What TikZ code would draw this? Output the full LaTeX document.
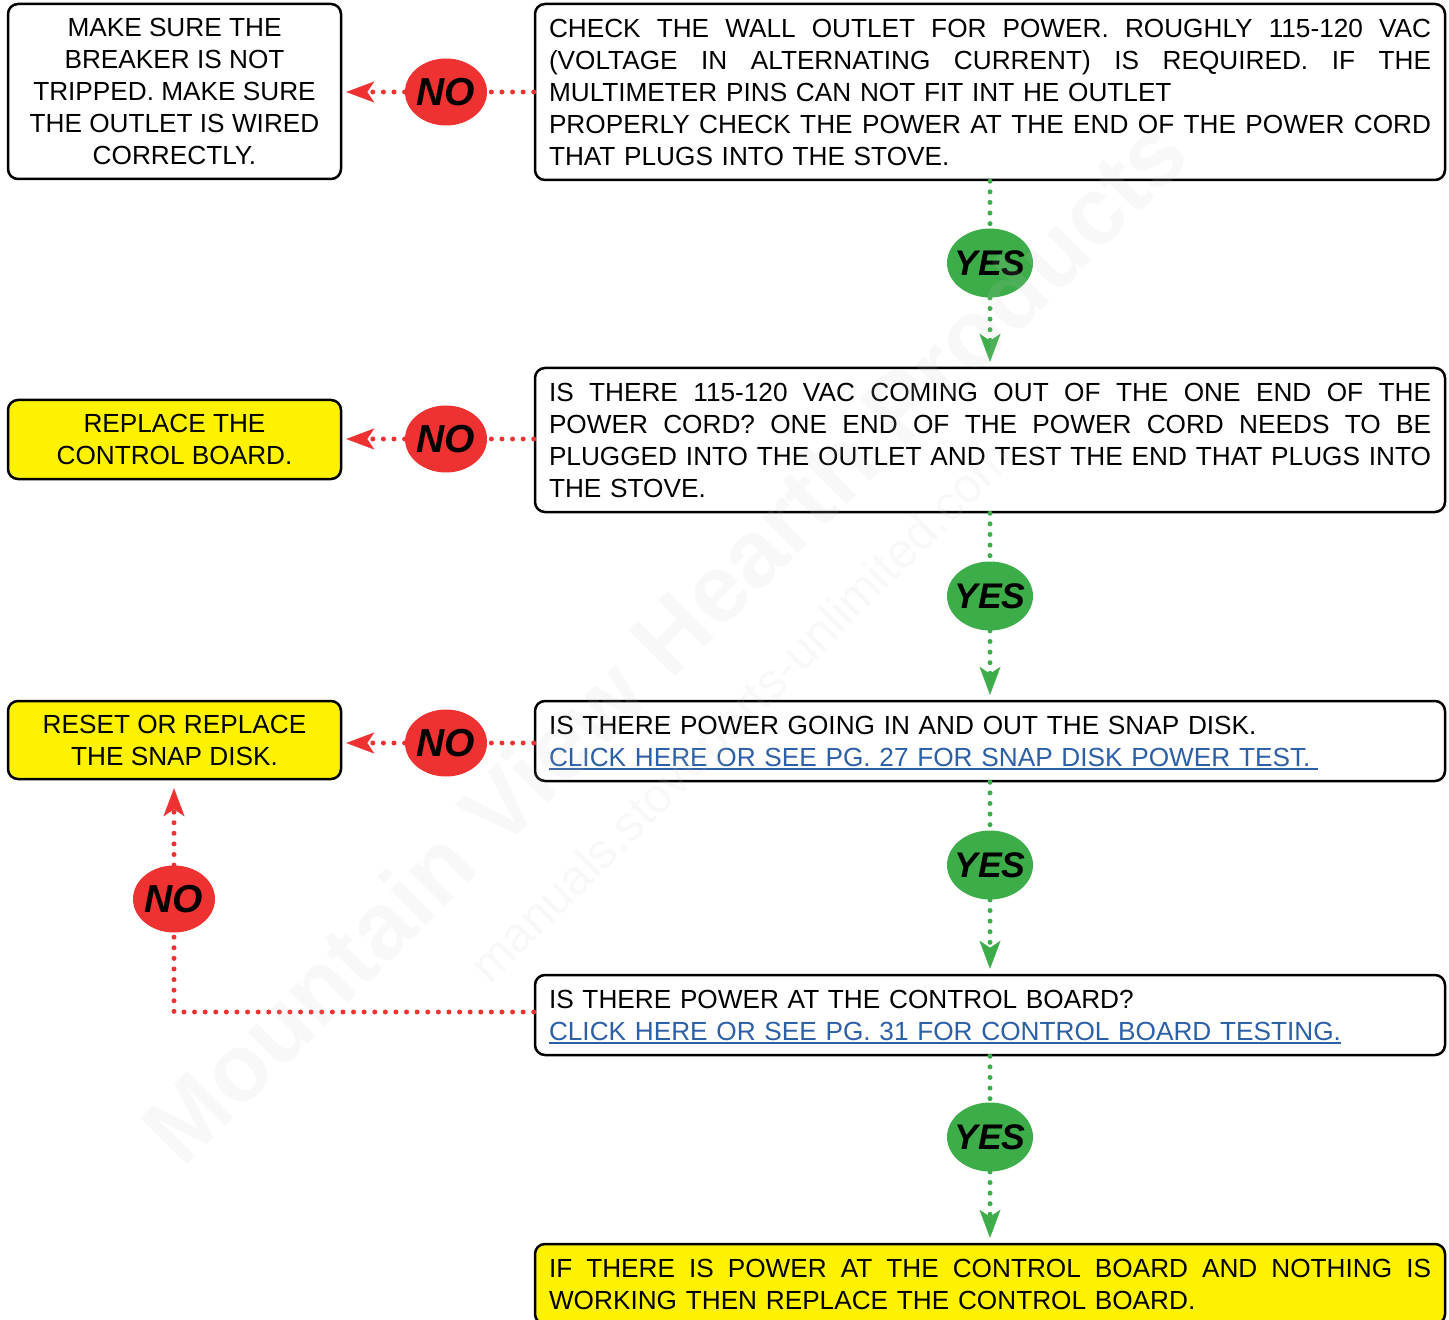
\documentclass[tikz,border=0pt]{standalone}
\usepackage{fontspec}
\setmainfont{Liberation Sans}
\usetikzlibrary{shapes.geometric,arrows.meta}
\definecolor{nored}{HTML}{EE3232}
\definecolor{yesgreen}{HTML}{3DAD4A}
\definecolor{boxyellow}{HTML}{FFF200}
\definecolor{linkblue}{HTML}{2D5FA6}
\newcommand\ms{\rule[-3.31pt]{0pt}{16pt}}
\newcommand\jl[1]{\leavevmode\hbox to 441pt{\frenchspacing\spaceskip=0.278em plus 1fil minus 0.05em\relax\ms #1}}
\newsavebox\lnkbox
\newcommand\lnk[2][0pt]{\sbox\lnkbox{\color{linkblue}#2}\leavevmode\ms{\color{linkblue}\rlap{\rule[-1.8pt]{\dimexpr\wd\lnkbox+#1\relax}{0.9pt}}}\usebox\lnkbox}
\newcommand\bub[1]{\makebox[0pt]{#1}}
\begin{document}
\begin{tikzpicture}[x=0.5pt,y=-0.5pt,
  box/.style={draw=black, line width=1.25pt, rounded corners=5pt, inner sep=0pt, fill=white,
    font=\fontsize{13.1pt}{16pt}\selectfont},
  wide/.style={box, minimum width=455pt, text width=441pt, align=left},
  narrow/.style={box, minimum width=166.5pt, align=center},
  hl/.style={fill=boxyellow},
  nobub/.style={ellipse, fill=nored, inner sep=0pt, minimum width=41pt, minimum height=33.5pt,
    font=\fontsize{19.5pt}{20pt}\selectfont\bfseries\itshape},
  yesbub/.style={ellipse, fill=yesgreen, inner sep=0pt, minimum width=43pt, minimum height=34.5pt,
    font=\fontsize{17.8pt}{20pt}\selectfont\bfseries\itshape},
  redline/.style={draw=nored, line width=2.5pt, line cap=round, dash pattern=on 0pt off 5.3pt},
  greenline/.style={draw=yesgreen, line width=2.5pt, line cap=round, dash pattern=on 0pt off 5.3pt},
  arrowed/.style={-{Stealth[length=14pt,width=10.5pt,inset=3.5pt,line width=0.1pt]}},
  wmark/.style={rotate=45, text=gray!45, opacity=0.12}
]
\useasboundingbox (0,0) rectangle (1449,1320);

% boxes
\node[narrow, minimum height=87.5pt] (A) at (174.5,91.5)
  {\ms MAKE SURE THE\\\ms BREAKER IS NOT\\\ms TRIPPED. MAKE SURE\\\ms THE OUTLET IS WIRED\\\ms CORRECTLY.};
\node[wide, minimum height=88pt] (B) at (990,92)
  {\jl{CHECK THE WALL OUTLET FOR POWER. ROUGHLY 115-120 VAC}\\
   \jl{(VOLTAGE IN ALTERNATING CURRENT) IS REQUIRED. IF THE}\\
   \ms MULTIMETER PINS CAN NOT FIT INT HE OUTLET\\
   \jl{PROPERLY CHECK THE POWER AT THE END OF THE POWER CORD}\\
   \ms THAT PLUGS INTO THE STOVE.};
\node[narrow, hl, minimum height=39.5pt] (C) at (174.5,439.5)
  {\ms REPLACE THE\\\ms CONTROL BOARD.};
\node[wide, minimum height=72pt] (D) at (990,440)
  {\jl{IS THERE 115-120 VAC COMING OUT OF THE ONE END OF THE}\\
   \jl{POWER CORD? ONE END OF THE POWER CORD NEEDS TO BE}\\
   \jl{PLUGGED INTO THE OUTLET AND TEST THE END THAT PLUGS INTO}\\
   \ms THE STOVE.};
\node[narrow, hl, minimum height=39pt] (E) at (174.5,740)
  {\ms RESET OR REPLACE\\\ms THE SNAP DISK.};
\node[wide, minimum height=40pt] (F) at (990,741)
  {\ms IS THERE POWER GOING IN AND OUT THE SNAP DISK.\\
   \lnk[4pt]{CLICK HERE OR SEE PG. 27 FOR SNAP DISK POWER TEST.}};
\node[wide, minimum height=40pt] (G) at (990,1015)
  {\ms IS THERE POWER AT THE CONTROL BOARD?\\
   \lnk{CLICK HERE OR SEE PG. 31 FOR CONTROL BOARD TESTING.}};
\node[wide, hl, minimum height=40pt] (H) at (990,1284)
  {\jl{IF THERE IS POWER AT THE CONTROL BOARD AND NOTHING IS}\\
   \ms WORKING THEN REPLACE THE CONTROL BOARD.};

% bubbles
\node[nobub] (n1) at (446,92) {\bub{NO}};
\node[nobub] (n2) at (446,439) {\bub{NO}};
\node[nobub] (n3) at (446,743) {\bub{NO}};
\node[nobub] (n4) at (174,899) {\bub{NO}};
\node[yesbub] (y1) at (990,263) {\bub{YES}};
\node[yesbub] (y2) at (990,596) {\bub{YES}};
\node[yesbub] (y3) at (990,865) {\bub{YES}};
\node[yesbub] (y4) at (990,1137) {\bub{YES}};

% red connectors
\draw[redline] (n1 -| B.west) -- (n1.east);
\draw[redline, arrowed, shorten >=2pt] (n1.west) -- (n1 -| A.east);
\draw[redline] (n2 -| D.west) -- (n2.east);
\draw[redline, arrowed, shorten >=2pt] (n2.west) -- (n2 -| C.east);
\draw[redline] (n3 -| F.west) -- (n3.east);
\draw[redline, arrowed, shorten >=2pt] (n3.west) -- (n3 -| E.east);
\draw[redline] ([yshift=1.5pt]G.west) -| (n4.south);
\draw[redline, arrowed, shorten >=4pt] (n4.north) -- (E.south -| n4);

% green connectors
\draw[greenline] (B.south -| y1) -- (y1.north);
\draw[greenline, arrowed, shorten >=2.5pt] (y1.south) -- (D.north -| y1);
\draw[greenline] (D.south -| y2) -- (y2.north);
\draw[greenline, arrowed, shorten >=2.5pt] (y2.south) -- (F.north -| y2);
\draw[greenline] (F.south -| y3) -- (y3.north);
\draw[greenline, arrowed, shorten >=2.5pt] (y3.south) -- (G.north -| y3);
\draw[greenline] (G.south -| y4) -- (y4.north);
\draw[greenline, arrowed, shorten >=2.5pt] (y4.south) -- (H.north -| y4);

% watermark
\node[wmark, font=\fontsize{47.5pt}{50pt}\selectfont\bfseries] (wm1) at (664,640) {Mountain View Hearth Products};
\node[wmark, font=\fontsize{24.5pt}{26pt}\selectfont] (wm2) at (744,714) {manuals.stoveparts-unlimited.com};
\end{tikzpicture}
\end{document}
